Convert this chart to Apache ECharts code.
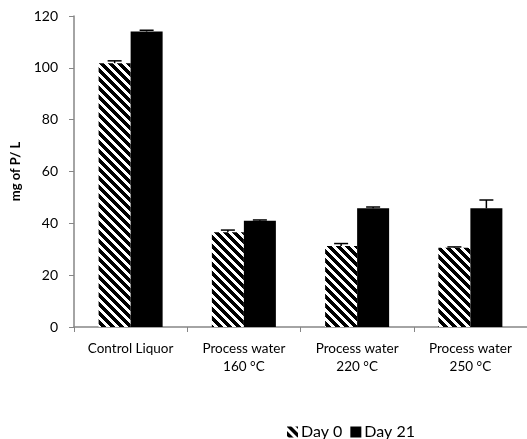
<!DOCTYPE html>
<html>
<head>
<meta charset="utf-8">
<script src="https://cdn.jsdelivr.net/npm/echarts@6/dist/echarts.min.js"></script>
<style>
  html, body { margin: 0; padding: 0; background: #fff; }
  #chart { width: 527px; height: 439px; }
</style>
</head>
<body>
<div id="chart"></div>
<script>
// Phosphorus concentration (mg P / L) per liquor type, at day 0 and day 21
const categories = ['Control Liquor', 'Process water\n160 °C', 'Process water\n220 °C', 'Process water\n250 °C'];
const day0 = [101.8, 36.6, 31.3, 30.6];
const day0Err = [0.9, 0.8, 0.9, 0.3];
const day21 = [114.0, 41.0, 45.8, 45.8];
const day21Err = [0.5, 0.3, 0.5, 3.2];
const yTicks = { min: 0, max: 120, interval: 20 };

const FONT = 'Lato, "Open Sans", sans-serif';
const BAR_W = 32;

// Diagonal "\" stripe tile used to fill the day 0 bars
function stripeTile() {
  const n = 9;
  const c = document.createElement('canvas');
  c.width = n; c.height = n;
  const ctx = c.getContext('2d');
  const img = ctx.createImageData(n, n);
  for (let y = 0; y < n; y++) {
    for (let x = 0; x < n; x++) {
      const d = ((x - y) % n + n) % n;
      const v = d < 4.5 ? 0 : 255;
      const i = (y * n + x) * 4;
      img.data[i] = v; img.data[i + 1] = v; img.data[i + 2] = v; img.data[i + 3] = 255;
    }
  }
  ctx.putImageData(img, 0, 0);
  return c;
}
const hatch = { image: stripeTile(), repeat: 'repeat' };

// Upward-only error bars, offset to sit on each bar of the pair
function errorSeries(values, errs, offset) {
  return {
    type: 'custom',
    silent: true,
    z: 5,
    data: values.map((v, i) => [i, v, v + errs[i]]),
    renderItem: function (params, api) {
      const base = api.coord([api.value(0), api.value(1)]);
      const top = api.coord([api.value(0), api.value(2)]);
      const x = base[0] + offset;
      const half = 7;
      return {
        type: 'group',
        children: [
          { type: 'line', shape: { x1: x, y1: base[1], x2: x, y2: top[1] }, style: { stroke: '#000', lineWidth: 1.5 } },
          { type: 'line', shape: { x1: x - half, y1: top[1], x2: x + half, y2: top[1] }, style: { stroke: '#000', lineWidth: 1.5 } }
        ]
      };
    }
  };
}

const chart = echarts.init(document.getElementById('chart'), null, { renderer: 'canvas' });
chart.setOption({
  animation: false,
  backgroundColor: '#fff',
  grid: { left: 74, right: 0, top: 16, bottom: 112 },
  legend: {
    left: 282,
    top: 419,
    itemWidth: 11,
    itemHeight: 11,
    itemGap: 8,
    icon: 'rect',
    textStyle: { fontFamily: FONT, fontSize: 16, color: '#000', padding: [0, 0, 0, -2] },
    data: ['Day 0', 'Day 21']
  },
  xAxis: {
    type: 'category',
    data: categories,
    axisLine: { lineStyle: { color: '#868686', width: 1.5 } },
    axisTick: { show: true, length: 5, lineStyle: { color: '#868686' } },
    axisLabel: { interval: 0, fontFamily: FONT, fontSize: 13.5, color: '#000', margin: 13, lineHeight: 18 }
  },
  yAxis: {
    type: 'value',
    min: yTicks.min,
    max: yTicks.max,
    interval: yTicks.interval,
    name: 'mg of P/ L',
    nameLocation: 'middle',
    nameGap: 49,
    nameTextStyle: { fontFamily: FONT, fontSize: 13, fontWeight: 'bold', color: '#000' },
    splitLine: { show: false },
    axisLine: { show: true, lineStyle: { color: '#868686', width: 1.5 } },
    axisTick: { show: true, length: 5, lineStyle: { color: '#868686' } },
    axisLabel: { fontFamily: FONT, fontSize: 14, color: '#000', margin: 16 }
  },
  series: [
    {
      name: 'Day 0',
      type: 'bar',
      data: day0,
      barWidth: BAR_W,
      barGap: '0%',
      itemStyle: { color: hatch }
    },
    {
      name: 'Day 21',
      type: 'bar',
      data: day21,
      barWidth: BAR_W,
      barGap: '0%',
      itemStyle: { color: '#000' }
    },
    errorSeries(day0, day0Err, -BAR_W / 2),
    errorSeries(day21, day21Err, BAR_W / 2)
  ]
});
</script>
</body>
</html>
